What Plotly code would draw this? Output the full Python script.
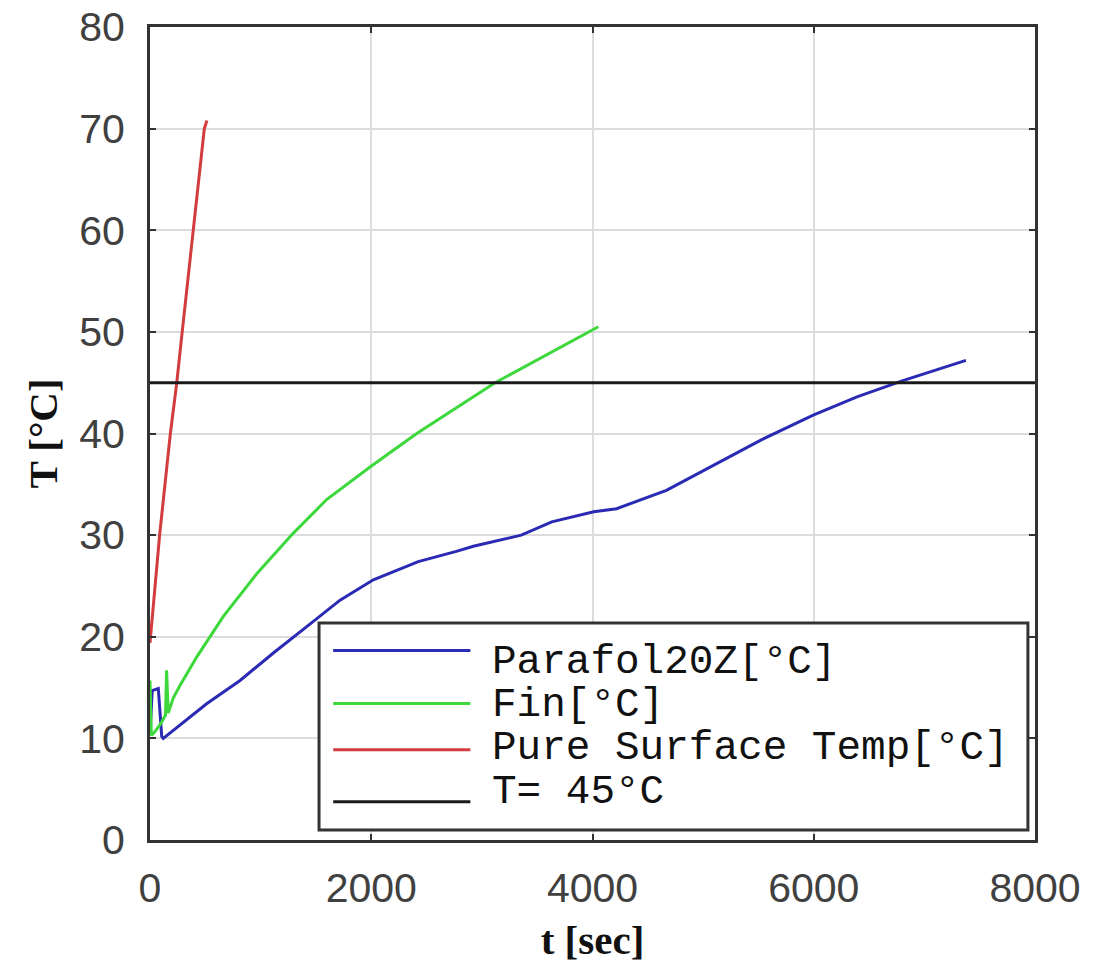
import plotly.graph_objects as go

# ---- data ----
t_parafol = [0, 20, 75, 106, 120, 300, 512, 814, 1115, 1417, 1718, 2019, 2425, 2769, 2923,
             3356, 3632, 4011, 4218, 4668, 5012, 5530, 5995, 6391, 6806, 7376]
T_parafol = [10.4, 14.7, 14.9, 10.2, 10.0, 11.6, 13.4, 15.7, 18.4, 21.0, 23.6, 25.6, 27.4, 28.4, 28.9,
             30.0, 31.3, 32.3, 32.6, 34.4, 36.4, 39.4, 41.8, 43.6, 45.2, 47.2]

t_fin = [0, 12, 40, 100, 140, 150, 165, 211, 271, 422, 663, 965, 1296, 1597, 1989, 2411, 3119, 3840, 4053]
T_fin = [15.7, 10.3, 10.6, 11.5, 12.3, 16.7, 12.5, 14.0, 15.2, 18.0, 22.0, 26.2, 30.2, 33.5, 36.7, 40.0,
         45.0, 49.2, 50.5]

t_pure = [0, 87, 184, 242, 281, 388, 491, 515]
T_pure = [19.4, 30, 40, 45, 49, 60, 70, 70.8]

t_limit = [0, 8000]
T_limit = [45, 45]

series = [
    ("Parafol20Z[°C]", t_parafol, T_parafol, "#2a2ab4"),
    ("Fin[°C]", t_fin, T_fin, "#3cd83c"),
    ("Pure Surface Temp[°C]", t_pure, T_pure, "#d23c3c"),
    ("T= 45°C", t_limit, T_limit, "#1a1a1a"),
]

x_ticks = [0, 2000, 4000, 6000, 8000]
y_ticks = [0, 10, 20, 30, 40, 50, 60, 70, 80]

fig = go.Figure()
for name, xs, ys, color in series:
    fig.add_trace(go.Scatter(x=xs, y=ys, mode="lines", name=name,
                             line=dict(color=color, width=3), showlegend=False))

# hand-built legend box (long key lines like the original)
shapes = [dict(type="rect", xref="paper", yref="paper", x0=0.191, x1=0.992, y0=0.0123, y1=0.267,
               line=dict(color="#333333", width=3), fillcolor="white", layer="above")]
annotations = []
row_key_y = [0.233, 0.168, 0.111, 0.047]
row_text_y = [0.219, 0.166, 0.113, 0.059]
for (name, _, _, color), ky, ty in zip(series, row_key_y, row_text_y):
    shapes.append(dict(type="line", xref="paper", yref="paper", x0=0.207, x1=0.362, y0=ky, y1=ky,
                       line=dict(color=color, width=3), layer="above"))
    annotations.append(dict(text=name, xref="paper", yref="paper", x=0.384, y=ty,
                            xanchor="left", yanchor="middle", showarrow=False,
                            font=dict(family="Liberation Mono", size=41, color="#111111")))

axis_common = dict(
    showline=True, linecolor="#333333", linewidth=3, mirror="ticks",
    ticks="inside", ticklen=6, tickwidth=2, tickcolor="#333333",
    showgrid=True, gridcolor="#dcdcdc", gridwidth=2, zeroline=False,
    automargin=False, ticklabeloverflow="allow",
    tickfont=dict(family="Liberation Sans", size=41, color="#404040"),
)

# page body adds an 8px offset, margins are trimmed to compensate
fig.update_layout(
    width=1102, height=972,
    margin=dict(l=142, r=75, t=19, b=140),
    paper_bgcolor="white", plot_bgcolor="white",
    shapes=shapes, annotations=annotations,
    xaxis=dict(range=[0, 8000], tickvals=x_ticks, ticklabelstandoff=10,
               title=dict(text="t [sec]", standoff=16,
                          font=dict(family="Liberation Serif", size=41, color="#111111", weight="bold")),
               **axis_common),
    yaxis=dict(range=[0, 80], tickvals=y_ticks, ticklabelstandoff=14,
               title=dict(text="T [°C]", standoff=9,
                          font=dict(family="Liberation Serif", size=41, color="#111111", weight="bold")),
               **axis_common),
)

fig.write_html("out.html")
